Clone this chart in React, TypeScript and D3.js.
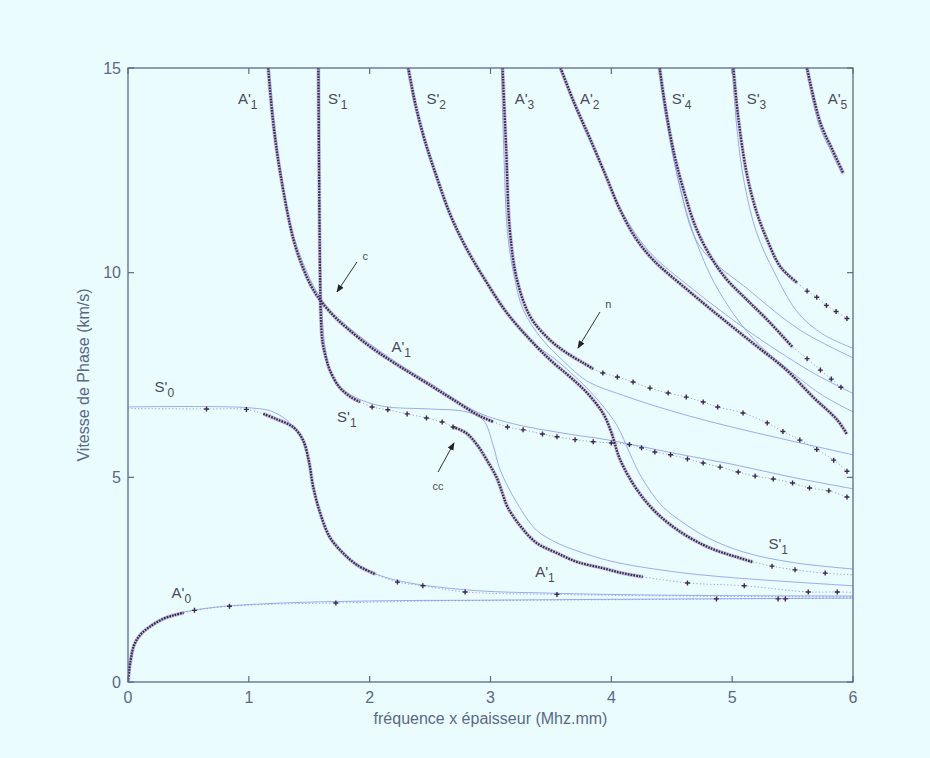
import React from 'react';
import * as d3 from 'd3';

type P = [number, number];

// ---------- axis ticks ----------
const xTicks = [0, 1, 2, 3, 4, 5, 6];
const yTicks = [0, 5, 10, 15];

// ---------- measured (dense dotted) curves ----------
const A0_dense: P[] = [[0,0],[0.02,0.5],[0.05,0.9],[0.1,1.15],[0.18,1.35],[0.29,1.54],[0.39,1.64],[0.46,1.69]];
const A0_tail: P[] = [[0.46,1.69],[0.55,1.75],[0.84,1.85],[1.2,1.9],[1.72,1.93],[2.5,1.98],[3.5,2.0],[4.5,2.02],[5.5,2.04],[6,2.05]];
const A0_plus: P[] = [[0.55,1.75],[0.84,1.85],[1.72,1.93],[4.87,2.03],[5.38,2.03],[5.44,2.03]];

const S0_head: P[] = [[0,6.68],[0.65,6.67],[0.98,6.66],[1.12,6.55]];
const S0_dense: P[] = [[1.12,6.55],[1.23,6.42],[1.37,6.22],[1.45,5.9],[1.5,5.35],[1.53,4.8],[1.59,4.13],[1.67,3.54],[1.78,3.15],[1.9,2.85],[2.05,2.63]];
const S0_tail: P[] = [[2.05,2.63],[2.23,2.44],[2.44,2.35],[2.79,2.2],[3.55,2.14],[4.5,2.1],[6,2.08]];
const S0_plus: P[] = [[0.65,6.67],[0.98,6.66],[2.23,2.44],[2.44,2.35],[2.79,2.2],[3.55,2.14]];

const A1_dense: P[] = [[1.16,15],[1.2,13.7],[1.26,12.43],[1.37,10.8],[1.45,10.1],[1.52,9.65],[1.59,9.33],[1.7,8.95],[1.81,8.65],[2.0,8.2],[2.2,7.8],[2.5,7.25],[2.7,6.88],[2.91,6.5],[3.02,6.36]];
const A1_tail: P[] = [[3.02,6.36],[3.14,6.23],[3.27,6.16],[3.43,6.06],[3.55,5.99],[3.7,5.92],[3.85,5.87],[4.0,5.84],[4.15,5.8],[4.25,5.72],[4.36,5.62],[4.49,5.55],[4.63,5.45],[4.76,5.35],[4.9,5.25],[5.05,5.13],[5.19,5.03],[5.34,4.96],[5.5,4.86],[5.64,4.74],[5.8,4.67],[5.95,4.52]];

const S1_dense: P[] = [[1.575,15],[1.58,13],[1.585,11],[1.59,9.8],[1.595,9.0],[1.61,8.3],[1.64,7.9],[1.67,7.62],[1.75,7.2],[1.84,6.97],[1.92,6.84]];
const S1_plateau: P[] = [[1.92,6.84],[2.02,6.72],[2.15,6.65],[2.31,6.55],[2.47,6.45],[2.6,6.35],[2.69,6.23]];
const S1_drop: P[] = [[2.69,6.23],[2.8,6.08],[2.89,5.79],[2.97,5.42],[3.05,5.0],[3.1,4.6],[3.14,4.28],[3.25,3.8],[3.38,3.4],[3.55,3.15],[3.72,2.93],[3.93,2.78],[4.09,2.66],[4.26,2.57]];
const S1_tail: P[] = [[4.26,2.57],[4.63,2.42],[5.1,2.35],[5.63,2.2],[5.87,2.2],[6,2.19]];

const S2_dense: P[] = [[2.32,15],[2.38,14.1],[2.46,13.2],[2.56,12.3],[2.67,11.4],[2.8,10.6],[2.96,9.8],[3.14,9.0],[3.38,8.2],[3.52,7.8],[3.66,7.45],[3.8,7.06],[3.93,6.57],[4.0,6.1],[4.07,5.45],[4.2,4.75],[4.35,4.2],[4.55,3.71],[4.76,3.35],[4.9,3.18],[5.04,3.05],[5.17,2.93]];
const S2_tail: P[] = [[5.17,2.93],[5.33,2.83],[5.52,2.74],[5.77,2.66],[6,2.62]];

const A3_dense: P[] = [[3.1,15],[3.13,13],[3.16,11.04],[3.22,9.82],[3.33,8.92],[3.49,8.36],[3.63,8.04],[3.77,7.79],[3.85,7.65]];
const A3_tail: P[] = [[3.85,7.65],[3.93,7.55],[4.05,7.45],[4.18,7.33],[4.32,7.18],[4.47,7.06],[4.62,6.96],[4.76,6.84],[4.88,6.72],[5.09,6.57],[5.29,6.33],[5.42,6.12],[5.56,5.91],[5.7,5.68],[5.84,5.42],[5.95,5.15]];

const A2_dense: P[] = [[3.58,15],[3.7,14.1],[3.82,13.3],[3.95,12.4],[4.07,11.55],[4.2,10.85],[4.35,10.3],[4.63,9.58],[4.9,8.92],[5.17,8.28],[5.45,7.62],[5.67,6.96],[5.87,6.4],[5.95,6.05]];

const S4_dense: P[] = [[4.4,15],[4.45,14.0],[4.52,12.9],[4.6,12.0],[4.7,11.1],[4.82,10.4],[4.95,9.85],[5.1,9.4],[5.28,8.88],[5.5,8.18]];
const S4_tail: P[] = [[5.5,8.18],[5.62,7.9],[5.73,7.62],[5.82,7.4],[5.9,7.2]];

const S3_dense: P[] = [[5.01,15],[5.05,13.8],[5.12,12.43],[5.2,11.5],[5.29,10.8],[5.4,10.14],[5.54,9.75]];
const S3_tail: P[] = [[5.54,9.75],[5.62,9.55],[5.7,9.4],[5.78,9.2],[5.86,9.05],[5.95,8.88]];

const A5_dense: P[] = [[5.62,15],[5.73,13.66],[5.83,13.0],[5.92,12.43]];

// ---------- theoretical (thin blue) curves ----------
const T_A0: P[] = [[0,0],[0.05,0.88],[0.2,1.4],[0.4,1.66],[0.7,1.82],[1.2,1.92],[2,1.98],[3,2.0],[4,2.02],[6,2.05]];
const T_S0: P[] = [[0,6.72],[1.0,6.7],[1.2,6.6],[1.35,6.3],[1.45,5.85],[1.52,5.0],[1.58,4.2],[1.66,3.55],[1.78,3.12],[1.95,2.78],[2.2,2.5],[2.8,2.25],[3.5,2.17],[4.5,2.12],[6,2.1]];
const T_A1: P[] = [[1.17,15],[1.21,13.7],[1.27,12.4],[1.38,10.8],[1.6,9.35],[1.82,8.68],[2.2,7.85],[2.5,7.3],[2.9,6.58],[3.2,6.3],[3.6,6.08],[4.0,5.9],[4.5,5.6],[5.0,5.32],[5.5,5.0],[6,4.72]];
const T_S1: P[] = [[1.585,15],[1.59,11],[1.6,9.5],[1.63,8.2],[1.7,7.4],[1.84,7.02],[2.1,6.74],[2.5,6.67],[2.8,6.6],[2.94,6.4],[3.02,5.8],[3.08,5.18],[3.22,4.37],[3.38,3.71],[3.55,3.4],[3.7,3.22],[4.0,2.95],[4.5,2.7],[5,2.55],[6,2.35]];
const T_S2: P[] = [[2.31,15],[2.37,14.1],[2.45,13.2],[2.55,12.3],[2.66,11.4],[2.79,10.6],[2.95,9.85],[3.13,9.05],[3.35,8.3],[3.55,7.85],[3.75,7.32],[3.9,6.85],[4.05,6.25],[4.15,5.6],[4.25,5.0],[4.42,4.3],[4.6,3.88],[4.8,3.52],[5.1,3.17],[5.5,2.92],[6,2.76]];
const T_A3: P[] = [[3.09,15],[3.11,13],[3.14,11],[3.19,10],[3.27,9.1],[3.42,8.4],[3.6,7.85],[3.8,7.35],[4.1,7.0],[4.5,6.62],[4.9,6.3],[5.4,5.95],[6,5.55]];
const T_A2: P[] = [[3.57,15],[3.69,14.1],[3.81,13.3],[3.94,12.45],[4.06,11.65],[4.2,10.95],[4.35,10.4],[4.63,9.7],[4.9,9.08],[5.17,8.5],[5.45,7.95],[5.7,7.5],[6,7.05]];
const T_S4: P[] = [[4.39,15],[4.45,13.8],[4.52,12.7],[4.62,11.5],[4.75,10.4],[4.9,9.5],[5.17,8.4],[5.5,7.55],[5.75,7.0],[6,6.6]];
const T_S4b: P[] = [[4.4,15],[4.47,13.6],[4.56,12.2],[4.73,10.65],[5.15,9.55],[5.56,8.6],[6,7.92]];
const T_S3: P[] = [[5.0,15],[5.04,13.5],[5.1,12.2],[5.2,11.0],[5.35,10.0],[5.55,9.0],[5.75,8.5],[6,8.15]];
const T_A5: P[] = [[5.61,15],[5.72,13.6],[5.82,12.95],[5.91,12.4]];

// ---------- annotations (data coordinates) ----------
type Lab = { base: string; sub: string; x: number; y: number };
const curveLabels: Lab[] = [
  { base: 'A', sub: '1', x: 0.91, y: 14.12 },
  { base: 'S', sub: '1', x: 1.655, y: 14.12 },
  { base: 'S', sub: '2', x: 2.47, y: 14.12 },
  { base: 'A', sub: '3', x: 3.2, y: 14.12 },
  { base: 'A', sub: '2', x: 3.74, y: 14.12 },
  { base: 'S', sub: '4', x: 4.5, y: 14.12 },
  { base: 'S', sub: '3', x: 5.12, y: 14.12 },
  { base: 'A', sub: '5', x: 5.79, y: 14.12 },
  { base: 'S', sub: '0', x: 0.22, y: 7.09 },
  { base: 'A', sub: '1', x: 2.18, y: 8.06 },
  { base: 'S', sub: '1', x: 1.73, y: 6.35 },
  { base: 'A', sub: '1', x: 3.37, y: 2.57 },
  { base: 'S', sub: '1', x: 5.3, y: 3.25 },
  { base: 'A', sub: '0', x: 0.36, y: 2.05 },
];
const smallLabels: { text: string; x: number; y: number }[] = [
  { text: 'c', x: 1.94, y: 10.31 },
  { text: 'n', x: 3.95, y: 9.14 },
  { text: 'cc', x: 2.52, y: 4.69 },
];
const arrows: { from: P; to: P }[] = [
  { from: [1.895, 10.26], to: [1.73, 9.53] },
  { from: [3.906, 9.04], to: [3.724, 8.16] },
  { from: [2.566, 5.13], to: [2.698, 5.84] },
];

const X_LABEL = 'fréquence x épaisseur (Mhz.mm)';
const Y_LABEL = 'Vitesse de Phase (km/s)';

const denseCurves = [A0_dense, S0_dense, A1_dense, S1_dense, S1_drop, S2_dense, A3_dense, A2_dense, S4_dense, S3_dense, A5_dense];
const sparseCurves = [A0_tail, S0_head, S0_tail, A1_tail, S1_plateau, S1_tail, S2_tail, A3_tail, S4_tail, S3_tail];
const plusSets = [A0_plus, S0_plus, A1_tail.slice(1), S1_plateau.slice(1), S1_tail.slice(1, 5), S2_tail.slice(1, 4), A3_tail.slice(1), S4_tail.slice(1), S3_tail.slice(1)];
const theoryCurves = [T_A0, T_S0, T_A1, T_S1, T_S2, T_A3, T_A2, T_S4, T_S4b, T_S3, T_A5];

const W = 930, H = 758;
const PL = 128, PR = 853, PT = 68, PB = 682;

export default function App() {
  const x = d3.scaleLinear().domain([0, 6]).range([PL, PR]);
  const y = d3.scaleLinear().domain([0, 15]).range([PB, PT]);
  const line = d3.line<P>().x(d => x(d[0])).y(d => y(d[1])).curve(d3.curveCatmullRom.alpha(0.5));

  const axisColor = '#5c6a8a';
  const textColor = '#5a6888';
  const labColor = '#4a4a5c';
  const dark = '#3b2a50';
  const blue = '#8d9cf0';

  return (
    <svg width={W} height={H} style={{ position: 'absolute', left: 0, top: 0, fontFamily: 'Liberation Sans, Arial, sans-serif' }}>
      <defs>
        <clipPath id="plot">
          <rect x={PL} y={PT} width={PR - PL} height={PB - PT} />
        </clipPath>
        <marker id="ah" viewBox="0 0 10 10" refX="9" refY="5" markerWidth="8" markerHeight="8" orient="auto">
          <path d="M0,1 L10,5 L0,9 z" fill="#222" />
        </marker>
      </defs>
      <rect x={0} y={0} width={W} height={H} fill="#eafcfd" />

      <g clipPath="url(#plot)">
        {theoryCurves.map((c, i) => (
          <path key={'t' + i} d={line(c) || ''} fill="none" stroke={blue} strokeWidth={1} opacity={0.85} />
        ))}
        {sparseCurves.map((c, i) => (
          <path key={'s' + i} d={line(c) || ''} fill="none" stroke="#8a8ad0" strokeWidth={1} strokeDasharray="1.2 2.2" opacity={0.8} />
        ))}
        {denseCurves.map((c, i) => (
          <path key={'h' + i} d={line(c) || ''} fill="none" stroke="#a48cc0" strokeWidth={3.8} opacity={0.5} />
        ))}
        {denseCurves.map((c, i) => (
          <path key={'d' + i} d={line(c) || ''} fill="none" stroke={dark} strokeWidth={2.3} strokeDasharray="1.7 1.1" />
        ))}
        {plusSets.map((set, i) => (
          <g key={'p' + i}>
            {set.map((p, j) => (
              <path key={j} d={`M${x(p[0]) - 2.5},${y(p[1])}h5M${x(p[0])},${y(p[1]) - 2.5}v5`} stroke={dark} strokeWidth={1.4} />
            ))}
          </g>
        ))}
      </g>

      <rect x={PL} y={PT} width={PR - PL} height={PB - PT} fill="none" stroke={axisColor} strokeWidth={1.3} />
      {xTicks.map(t => (
        <g key={'xt' + t}>
          <line x1={x(t)} x2={x(t)} y1={PB} y2={PB - 6} stroke={axisColor} strokeWidth={1.2} />
          <line x1={x(t)} x2={x(t)} y1={PT} y2={PT + 6} stroke={axisColor} strokeWidth={1.2} />
          <text x={x(t)} y={PB + 21} textAnchor="middle" fontSize={16} fill={textColor}>{t}</text>
        </g>
      ))}
      {yTicks.map(t => (
        <g key={'yt' + t}>
          <line x1={PL} x2={PL + 6} y1={y(t)} y2={y(t)} stroke={axisColor} strokeWidth={1.2} />
          <line x1={PR} x2={PR - 6} y1={y(t)} y2={y(t)} stroke={axisColor} strokeWidth={1.2} />
          <text x={PL - 7} y={y(t)} dy="0.36em" textAnchor="end" fontSize={16} fill={textColor}>{t}</text>
        </g>
      ))}
      <text x={(PL + PR) / 2} y={PB + 42} textAnchor="middle" fontSize={16} fill={textColor}>{X_LABEL}</text>
      <text transform={`translate(${PL - 39},${(PT + PB) / 2}) rotate(-90)`} textAnchor="middle" fontSize={16} fill={textColor}>{Y_LABEL}</text>

      {curveLabels.map((l, i) => (
        <text key={'l' + i} x={x(l.x)} y={y(l.y)} fontSize={15} fill={labColor}>
          {l.base + "'"}
          <tspan fontSize={12} dy={5}>{l.sub}</tspan>
        </text>
      ))}
      {smallLabels.map((l, i) => (
        <text key={'sl' + i} x={x(l.x)} y={y(l.y)} fontSize={11} fill={labColor}>{l.text}</text>
      ))}
      {arrows.map((a, i) => (
        <line key={'a' + i} x1={x(a.from[0])} y1={y(a.from[1])} x2={x(a.to[0])} y2={y(a.to[1])} stroke="#333" strokeWidth={1} markerEnd="url(#ah)" />
      ))}
    </svg>
  );
}
